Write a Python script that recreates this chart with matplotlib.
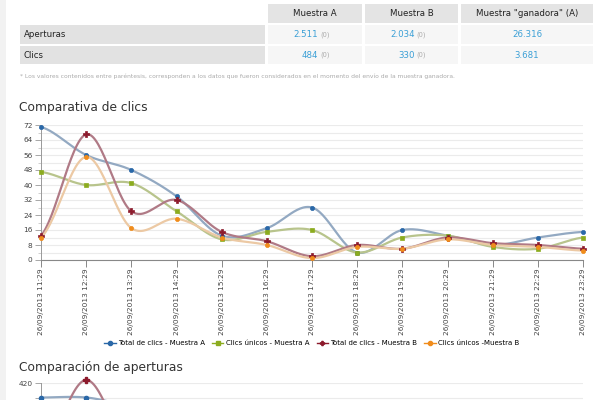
import numpy as np
import matplotlib
matplotlib.use("Agg")
import matplotlib.pyplot as plt
from matplotlib.patches import Rectangle
from matplotlib.lines import Line2D

# ---------------- data ----------------
table_cols = ["Muestra A", "Muestra B", 'Muestra "ganadora" (A)']
table_rows = ["Aperturas", "Clics"]
table_vals = [["2.511", "2.034", "26.316"], ["484", "330", "3.681"]]
table_prev = [["(0)", "(0)", ""], ["(0)", "(0)", ""]]
note_text = "* Los valores contenidos entre paréntesis, corresponden a los datos que fueron considerados en el momento del envío de la muestra ganadora."

times = ["26/09/2013 11:29", "26/09/2013 12:29", "26/09/2013 13:29", "26/09/2013 14:29",
         "26/09/2013 15:29", "26/09/2013 16:29", "26/09/2013 17:29", "26/09/2013 18:29",
         "26/09/2013 19:29", "26/09/2013 20:29", "26/09/2013 21:29", "26/09/2013 22:29",
         "26/09/2013 23:29"]
total_a = [71, 56, 48, 34, 13, 17, 28, 4, 16, 13, 8, 12, 15]
unicos_a = [47, 40, 41, 26, 11, 15, 16, 4, 12, 13, 7, 6, 12]
total_b = [13, 67, 26, 32, 15, 10, 2, 8, 6, 12, 9, 8, 6]
unicos_b = [12, 55, 17, 22, 12, 8, 1, 7, 6, 11, 8, 7, 5]
series_names = ["Total de clics - Muestra A", "Clics únicos - Muestra A",
                "Total de clics - Muestra B", "Clics únicos -Muestra B"]

# second chart (only its top is visible)
aper_total_a = [362, 362, 330]
aper_total_b = [130, 432, 140]

# ---------------- helpers ----------------
W, H = 600, 400
fig = plt.figure(figsize=(6, 4), dpi=100)
fig.patch.set_facecolor("white")
FONT = "DejaVu Sans"

def fx(x):
    return x / W

def fy(y):
    return 1 - y / H

def rect(x0, y0, x1, y1, color):
    fig.patches.append(Rectangle((fx(x0), fy(y1)), fx(x1) - fx(x0), fy(y0) - fy(y1),
                                 transform=fig.transFigure, facecolor=color,
                                 edgecolor="none", zorder=0))

def spline(y, n=30):
    y = np.asarray(y, float)
    x = np.arange(len(y), dtype=float)
    m = np.zeros_like(y)
    m[1:-1] = (y[2:] - y[:-2]) / 2.0
    m[0] = (y[1] - y[0]) * 0.5
    m[-1] = (y[-1] - y[-2]) * 0.5
    xs, ys = [], []
    for i in range(len(y) - 1):
        t = np.linspace(0, 1, n, endpoint=(i == len(y) - 2))
        h00 = 2 * t**3 - 3 * t**2 + 1
        h10 = t**3 - 2 * t**2 + t
        h01 = -2 * t**3 + 3 * t**2
        h11 = t**3 - t**2
        xs.append(x[i] + t)
        ys.append(h00 * y[i] + h10 * m[i] + h01 * y[i + 1] + h11 * m[i + 1])
    return np.concatenate(xs), np.concatenate(ys)

# left gray strip
rect(0, 0, 6, 400, "#f2f2f2")

# ---------------- table ----------------
col_x = [(268, 362), (365, 458), (461, 593)]
row_y = [(25, 44), (46, 64)]
for (x0, x1), name in zip(col_x, table_cols):
    rect(x0, 4, x1, 23, "#e4e4e4")
    fig.text(fx((x0 + x1) / 2), fy(14), name, ha="center", va="center",
             fontsize=6.2, color="#222222", family=FONT)
for r, (y0, y1) in enumerate(row_y):
    rect(20, y0, 265, y1, "#e2e2e2")
    fig.text(fx(24), fy((y0 + y1) / 2), table_rows[r], ha="left", va="center",
             fontsize=6.2, color="#222222", family=FONT)
    for c, (x0, x1) in enumerate(col_x):
        rect(x0, y0, x1, y1, "#f6f6f6")
        cx = (x0 + x1) / 2
        v = table_vals[r][c]
        p = table_prev[r][c]
        if p:
            fig.text(fx(cx + 3), fy((y0 + y1) / 2), v, ha="right", va="center",
                     fontsize=6.2, color="#3a9fd6", family=FONT)
            fig.text(fx(cx + 5), fy((y0 + y1) / 2), p, ha="left", va="center",
                     fontsize=4.8, color="#aaaaaa", family=FONT)
        else:
            fig.text(fx(cx), fy((y0 + y1) / 2), v, ha="center", va="center",
                     fontsize=6.2, color="#3a9fd6", family=FONT)

fig.text(fx(20), fy(76), note_text, ha="left", va="center", fontsize=4.3,
         color="#aaaaaa", family=FONT)

# ---------------- chart 1 ----------------
fig.text(fx(19), fy(108), "Comparativa de clics", ha="left", va="center",
         fontsize=8.8, color="#333333", family=FONT)

ax = fig.add_axes([fx(41), fy(260), fx(583) - fx(41), fy(125) - fy(260)])
ax.set_facecolor("none")
styles = [
    (total_a, "#93a9c2", "#2a68a8", "o", 3.0),
    (unicos_a, "#b8c48c", "#8cac1f", "s", 3.0),
    (total_b, "#b07a86", "#8c1a2c", "P", 3.8),
    (unicos_b, "#ecc9a4", "#f08c1c", "o", 3.0),
]
x = np.arange(len(times))
handles = []
for (vals, lc, mc, mk, ms), name in zip(styles, series_names):
    sx, sy = spline(vals)
    ax.plot(sx, sy, color=lc, lw=1.6, solid_capstyle="round",
            clip_on=False, zorder=3)
    ax.plot(x, vals, ls="none", marker=mk, ms=ms, mfc=mc, mec=mc, mew=0.5,
            clip_on=False, zorder=4)
    handles.append(Line2D([0], [0], color=mc, lw=1.0, marker=mk, ms=3, mfc=mc, mec=mc))

ax.set_xlim(0, 12)
ax.set_ylim(0, 72)
ax.set_yticks(np.arange(0, 73, 8))
ax.set_yticks(np.arange(0, 73, 4), minor=True)
ax.grid(True, which="both", axis="y", color="#ebebeb", lw=0.8, zorder=0)
ax.set_xticks(x)
ax.set_xticklabels(times, rotation=90, fontsize=5.3, color="#444444", family=FONT)
ax.tick_params(axis="y", which="major", labelsize=5.3, labelcolor="#444444",
               length=4, width=0.6, color="#999999", pad=2)
ax.tick_params(axis="y", which="minor", length=2, width=0.5, color="#bbbbbb")
ax.tick_params(axis="x", length=5, width=0.7, color="#888888", pad=1)
for s in ["top", "right"]:
    ax.spines[s].set_visible(False)
ax.spines["left"].set_color("#999999")
ax.spines["left"].set_linewidth(0.7)
ax.spines["bottom"].set_color("#888888")
ax.spines["bottom"].set_linewidth(0.8)

fig.legend(handles, series_names, loc="center", bbox_to_anchor=(fx(312), fy(343)),
           ncol=4, frameon=False, handlelength=1.6, handletextpad=0.4,
           columnspacing=1.0, prop={"family": FONT, "size": 5})

# ---------------- chart 2 (cut off) ----------------
fig.text(fx(19), fy(368), "Comparación de aperturas", ha="left", va="center",
         fontsize=8.8, color="#333333", family=FONT)
ax2 = fig.add_axes([fx(41), fy(488), fx(583) - fx(41), fy(383) - fy(488)])
ax2.set_facecolor("none")
for vals, lc, mc, mk, ms in [(aper_total_a, "#93a9c2", "#2a68a8", "o", 3.0),
                             (aper_total_b, "#b07a86", "#8c1a2c", "P", 3.8)]:
    sx, sy = spline(vals)
    ax2.plot(sx, sy, color=lc, lw=1.6, clip_on=False, zorder=3)
    ax2.plot(np.arange(len(vals)), vals, ls="none", marker=mk, ms=ms, mfc=mc,
             mec=mc, clip_on=False, zorder=4)
ax2.set_xlim(0, 12)
ax2.set_ylim(0, 420)
ax2.set_yticks([420])
ax2.set_yticks(np.arange(0, 421, 60), minor=True)
ax2.grid(True, which="both", axis="y", color="#ebebeb", lw=0.8, zorder=0)
ax2.set_xticks([])
ax2.tick_params(axis="y", which="both", labelsize=5.3, labelcolor="#444444", length=4,
                width=0.6, color="#999999", pad=2)
for s in ["top", "right", "bottom"]:
    ax2.spines[s].set_visible(False)
ax2.spines["left"].set_color("#999999")
ax2.spines["left"].set_linewidth(0.7)

fig.savefig("out.png", dpi=100, facecolor="white")
